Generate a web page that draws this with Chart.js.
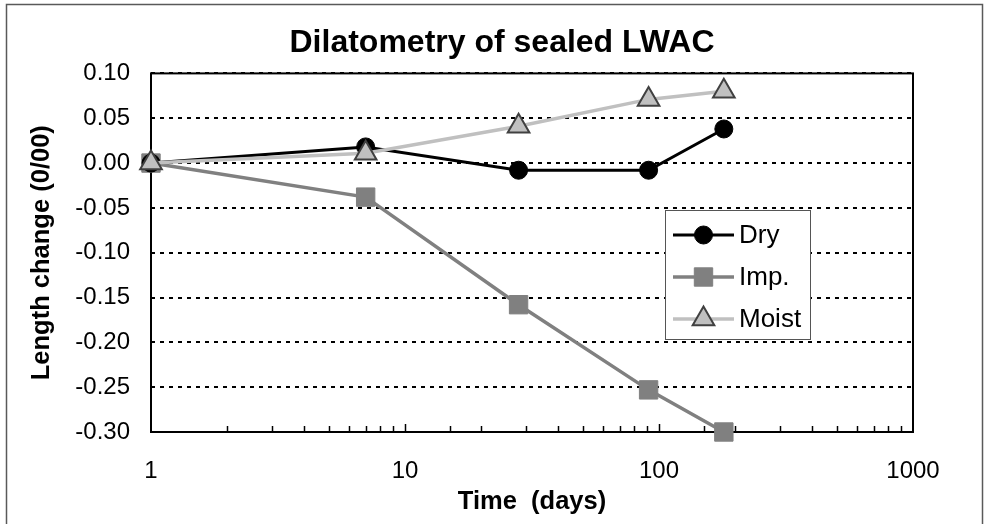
<!DOCTYPE html>
<html>
<head>
<meta charset="utf-8">
<script src="https://cdn.jsdelivr.net/npm/chart.js@4/dist/chart.umd.min.js"></script>
<style>
  html, body { margin: 0; padding: 0; background: #fff; }
  #wrap { width: 988px; height: 524px; }
</style>
</head>
<body>
<div id="wrap"><canvas id="chart" width="988" height="524"></canvas></div>
<script>
// Tempi di misura (giorni) e variazioni di lunghezza
const days = [1, 7, 28, 91, 180];
const dry = [0, 0.018, -0.008, -0.008, 0.038];
const imp = [0, -0.038, -0.158, -0.253, -0.300];
const moist = [0, 0.011, 0.041, 0.071, 0.080];
const seriesNames = ['Dry', 'Imp.', 'Moist'];

// Assi
const yMin = -0.30, yMax = 0.10, yStep = 0.05;
const xMin = 1, xMax = 1000;

const FONT = "'Liberation Sans', Arial, sans-serif";
Chart.defaults.font.family = FONT;
Chart.defaults.color = '#000';

function toPoints(values) {
    return days.map((d, i) => ({ x: d, y: values[i] }));
}

// Disegna un marker (cerchio, quadrato, triangolo)
function drawMarker(ctx, ds, x, y) {
    const r = ds.pointRadius;
    ctx.save();
    ctx.fillStyle = ds.pointBackgroundColor;
    ctx.strokeStyle = ds.pointBorderColor;
    ctx.lineWidth = ds.pointBorderWidth;
    ctx.beginPath();
    if (ds.pointStyle === 'circle') {
        ctx.arc(x, y, r, 0, Math.PI * 2);
    } else if (ds.pointStyle === 'rect') {
        const s = r * Math.SQRT1_2;
        ctx.rect(x - s, y - s, 2 * s, 2 * s);
    } else {
        ctx.moveTo(x, y - r);
        ctx.lineTo(x + r * 0.866, y + r / 2);
        ctx.lineTo(x - r * 0.866, y + r / 2);
        ctx.closePath();
    }
    ctx.fill();
    ctx.stroke();
    ctx.restore();
}

// Sfondo e cornice esterna
const framePlugin = {
    id: 'frame',
    beforeDraw(chart) {
        const ctx = chart.ctx;
        ctx.save();
        ctx.fillStyle = '#fff';
        ctx.fillRect(0, 0, chart.width, chart.height);
        ctx.strokeStyle = '#595959';
        ctx.lineWidth = 1.5;
        ctx.strokeRect(6.5, 4.5, 976, 540);
        ctx.restore();
    },
    beforeDatasetsDraw(chart) {
        const { ctx, chartArea: a, scales } = chart;
        ctx.save();
        ctx.strokeStyle = '#000';
        ctx.lineWidth = 2;
        ctx.strokeRect(a.left, a.top, a.right - a.left, a.bottom - a.top);
        // tacche logaritmiche verso l'interno
        ctx.lineWidth = 1.5;
        scales.x.ticks.forEach(t => {
            if (t.value <= xMin || t.value >= xMax) return;
            const px = Math.round(scales.x.getPixelForValue(t.value)) + 0.5;
            const major = Math.abs(Math.log10(t.value) % 1) < 1e-9;
            ctx.beginPath();
            ctx.moveTo(px, a.bottom);
            ctx.lineTo(px, a.bottom - (major ? 8 : 6));
            ctx.stroke();
        });
        ctx.restore();
    }
};

// Legenda dentro l'area del grafico
const legendPlugin = {
    id: 'boxLegend',
    afterDraw(chart) {
        const ctx = chart.ctx;
        const box = { x: 665.5, y: 210.5, w: 145, h: 129 };
        ctx.save();
        ctx.fillStyle = '#fff';
        ctx.fillRect(box.x, box.y, box.w, box.h);
        ctx.strokeStyle = '#555';
        ctx.lineWidth = 1;
        ctx.strokeRect(box.x, box.y, box.w, box.h);
        ctx.font = '26px ' + FONT;
        ctx.textBaseline = 'middle';
        ctx.fillStyle = '#000';
        const rows = [235, 277, 319];
        chart.data.datasets.forEach((ds, i) => {
            const y = rows[i];
            ctx.strokeStyle = ds.borderColor;
            ctx.lineWidth = ds.borderWidth;
            ctx.beginPath();
            ctx.moveTo(673, y);
            ctx.lineTo(734, y);
            ctx.stroke();
            drawMarker(ctx, ds, 703.5, y);
            ctx.fillStyle = '#000';
            ctx.fillText(ds.label, 739, y + 1);
        });
        ctx.restore();
    }
};

const chart = new Chart(document.getElementById('chart').getContext('2d'), {
    type: 'line',
    data: {
        datasets: [
            {
                label: seriesNames[0],
                data: toPoints(dry),
                borderColor: '#000',
                borderWidth: 3,
                pointStyle: 'circle',
                pointRadius: 9,
                pointBackgroundColor: '#000',
                pointBorderColor: '#000',
                pointBorderWidth: 1,
                order: 1
            },
            {
                label: seriesNames[1],
                data: toPoints(imp),
                borderColor: '#808080',
                borderWidth: 3.5,
                pointStyle: 'rect',
                pointRadius: 13,
                pointBackgroundColor: '#808080',
                pointBorderColor: '#808080',
                pointBorderWidth: 1,
                order: 2
            },
            {
                label: seriesNames[2],
                data: toPoints(moist),
                borderColor: '#c0c0c0',
                borderWidth: 3.5,
                pointStyle: 'triangle',
                pointRadius: 12.5,
                pointBackgroundColor: '#c0c0c0',
                pointBorderColor: '#404040',
                pointBorderWidth: 2,
                order: 0
            }
        ]
    },
    options: {
        responsive: false,
        animation: false,
        devicePixelRatio: 1,
        layout: { padding: { left: 16, right: 0, top: 0, bottom: 0 } },
        elements: { line: { tension: 0 } },
        datasets: { line: { clip: false } },
        plugins: {
            legend: { display: false },
            tooltip: { enabled: false },
            title: {
                display: true,
                text: 'Dilatometry of sealed LWAC',
                font: { size: 32, weight: 'bold' },
                color: '#000',
                padding: { top: 24, bottom: 11 }
            }
        },
        scales: {
            x: {
                type: 'logarithmic',
                min: xMin,
                max: xMax,
                grid: { display: false, drawTicks: false },
                border: { display: false },
                ticks: {
                    autoSkip: false,
                    maxRotation: 0,
                    padding: 25,
                    font: { size: 24 },
                    color: '#000',
                    callback: v => (Math.abs(Math.log10(v) % 1) < 1e-9 ? String(v) : '')
                },
                title: {
                    display: true,
                    text: 'Time  (days)',
                    font: { size: 25.5, weight: 'bold' },
                    color: '#000',
                    padding: { top: 0, bottom: 7 }
                },
                afterFit: s => { s.height = 92; }
            },
            y: {
                min: yMin,
                max: yMax,
                grid: { color: '#000', lineWidth: 2, drawTicks: false },
                border: { display: false, dash: [4, 5] },
                ticks: {
                    stepSize: yStep,
                    padding: 21,
                    font: { size: 24 },
                    color: '#000',
                    callback: v => (Math.abs(v) < 1e-9 ? 0 : v).toFixed(2)
                },
                title: {
                    display: true,
                    text: 'Length change (0/00)',
                    font: { size: 25.5, weight: 'bold' },
                    color: '#000',
                    padding: { top: 11, bottom: 0 }
                },
                afterFit: s => { s.width = 135; }
            },
            yRight: {
                position: 'right',
                display: true,
                grid: { display: false, drawTicks: false },
                border: { display: false },
                ticks: { display: false },
                afterFit: s => { s.width = 75; }
            }
        }
    },
    plugins: [framePlugin, legendPlugin]
});
</script>
</body>
</html>
